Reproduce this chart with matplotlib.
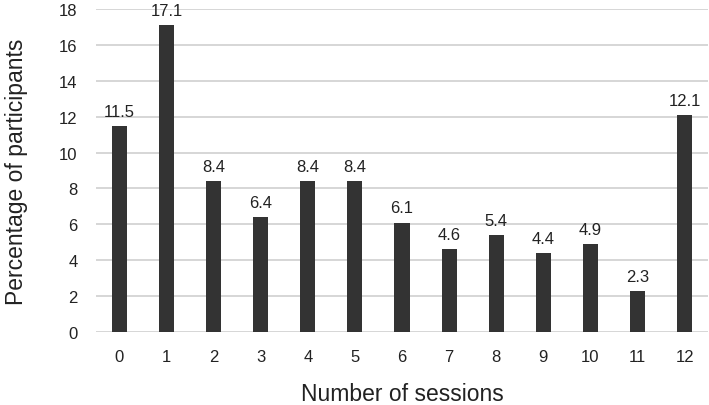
import matplotlib
matplotlib.use("Agg")
import matplotlib.pyplot as plt

sessions = ["0", "1", "2", "3", "4", "5", "6", "7", "8", "9", "10", "11", "12"]
percentages = [11.5, 17.1, 8.4, 6.4, 8.4, 8.4, 6.1, 4.6, 5.4, 4.4, 4.9, 2.3, 12.1]
y_ticks = [0, 2, 4, 6, 8, 10, 12, 14, 16, 18]

plt.rcParams['font.family'] = ['Liberation Sans', 'DejaVu Sans']

fig = plt.figure(figsize=(7.09, 4.06), dpi=100)
ax = fig.add_axes([0.135, 0.18, 0.864, 0.795])

x = list(range(len(sessions)))
bars = ax.bar(x, percentages, width=0.32, color="#333333", zorder=3)
for xi, v in zip(x, percentages):
    ax.text(xi, v + 0.4, f"{v:.1f}", ha="center", va="bottom",
            fontsize=12, color="#222222", zorder=4)

ax.set_xlim(-0.5, len(sessions) - 0.5)
ax.set_ylim(0, 18)
ax.set_yticks(y_ticks)
ax.set_xticks(x)
ax.set_xticklabels(sessions)
ax.tick_params(axis="both", length=0, labelsize=12, colors="#222222")
ax.tick_params(axis="y", pad=13)
ax.tick_params(axis="x", pad=12)
ax.yaxis.grid(True, color="#cccccc", linewidth=1.1, zorder=0)
for s in ax.spines.values():
    s.set_visible(False)

ax.set_xlabel("Number of sessions", fontsize=16.5, color="#222222", labelpad=13)
ax.set_ylabel("Percentage of participants", fontsize=16.5, color="#222222", labelpad=22)

fig.savefig("out.png", dpi=100)
